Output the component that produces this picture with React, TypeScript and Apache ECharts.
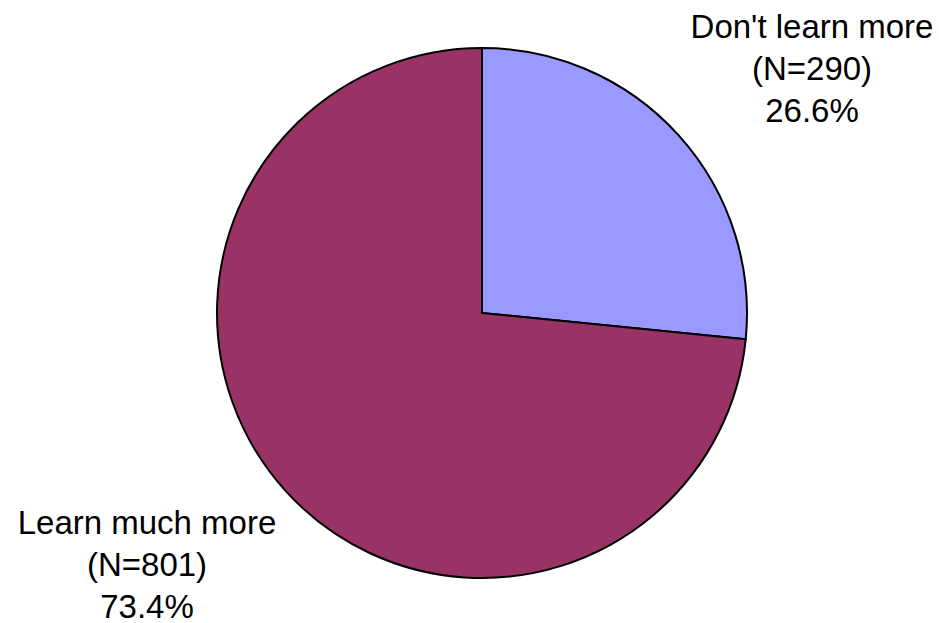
import React, { useEffect, useRef } from "react";
import * as echarts from "echarts";

const categories = ["Don't learn more", "Learn much more"];
const counts = [290, 801];
const percents = ["26.6%", "73.4%"];
const colors = ["#9999FF", "#993366"];

export default function App() {
  const ref = useRef<HTMLDivElement>(null);
  useEffect(() => {
    document.body.style.margin = "0";
    const chart = echarts.init(ref.current!, null, { renderer: "svg" });
    chart.setOption({
      animation: false,
      backgroundColor: "#ffffff",
      series: [
        {
          type: "pie",
          center: [482, 313],
          radius: [0, 265],
          startAngle: 90,
          clockwise: true,
          avoidLabelOverlap: false,
          data: categories.map((name, i) => ({
            name,
            value: counts[i],
            itemStyle: { color: colors[i] },
          })),
          itemStyle: { borderColor: "#000000", borderWidth: 2 },
          label: {
            show: true,
            position: "outside",
            formatter: (p: any) =>
              `${p.name}\n(N=${counts[p.dataIndex]})\n${percents[p.dataIndex]}`,
            fontFamily: "Liberation Sans, Arial, sans-serif",
            fontSize: 33,
            lineHeight: 42,
            color: "#000000",
            align: "center",
          },
          labelLine: { show: false },
          labelLayout: (params: any) =>
            params.dataIndex === 0
              ? { x: 812, y: 68, align: "center", verticalAlign: "middle" }
              : { x: 147, y: 564, align: "center", verticalAlign: "middle" },
          emphasis: { disabled: true },
        },
      ],
    });
    return () => chart.dispose();
  }, []);
  return <div ref={ref} style={{ width: 939, height: 623 }} />;
}
